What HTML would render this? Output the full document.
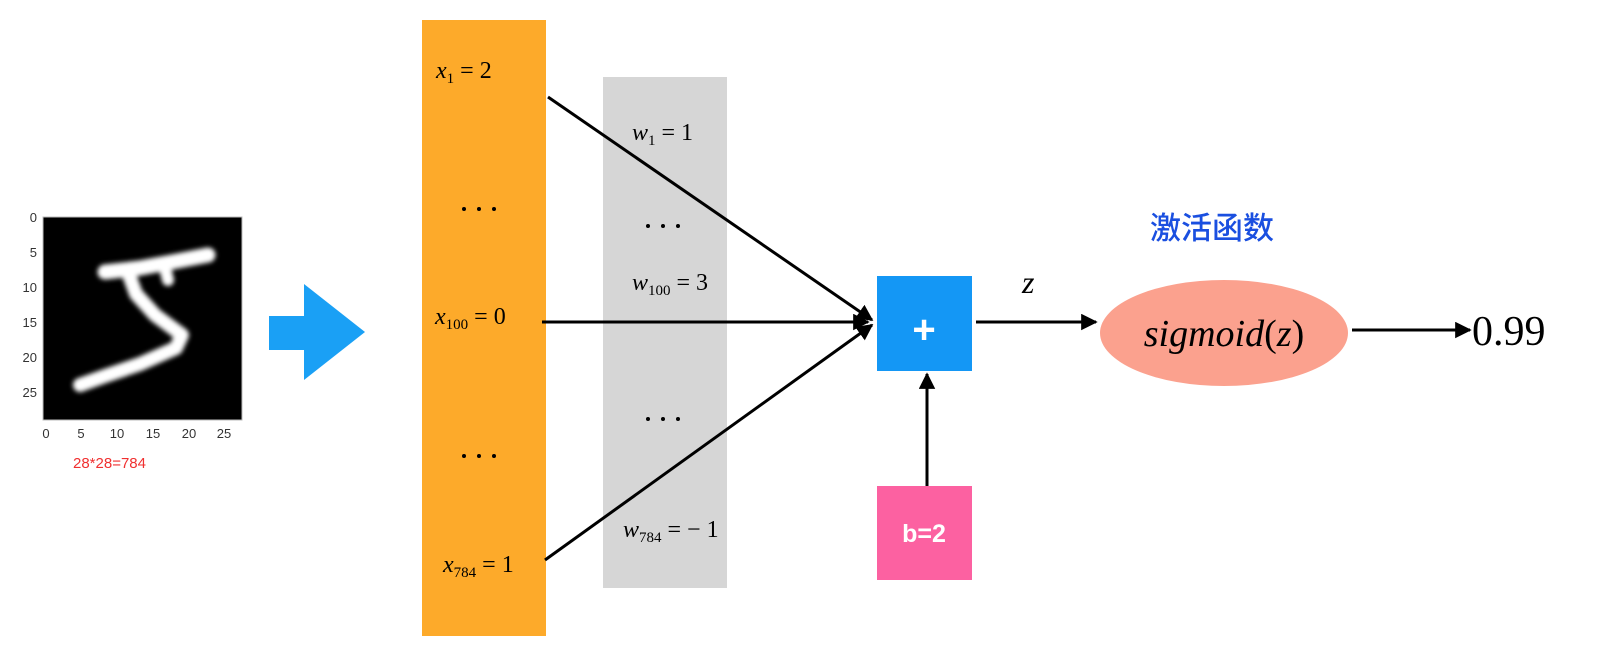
<!DOCTYPE html>
<html><head><meta charset="utf-8"><style>
html,body{margin:0;padding:0;background:#fff;}
svg{display:block}
.m{font-family:"Liberation Serif",serif;font-size:24px;fill:#000}
.i{font-style:italic}
.s{font-size:15px}
</style></head><body>
<svg width="1600" height="671" viewBox="0 0 1600 671" xmlns="http://www.w3.org/2000/svg">
<defs>
<marker id="ah" viewBox="0 0 10 10" refX="9" refY="5" markerWidth="5.5" markerHeight="5.5" orient="auto"><path d="M0,0 L10,5 L0,10 z" fill="#000"/></marker>
<filter id="bl" x="-20%" y="-20%" width="140%" height="140%"><feGaussianBlur stdDeviation="2.5"/></filter>
</defs>
<rect x="43" y="217" width="199" height="203" fill="#000" stroke="#bbb" stroke-width="1"/>
<g filter="url(#bl)" stroke="#fff" fill="none" stroke-linecap="round" stroke-linejoin="round">
<path d="M105,272 L140,268 L172,262 L208,255" stroke-width="15"/>
<path d="M128,272 L136,294 L155,315 L182,335 L176,348 L140,364 L105,376 L80,385" stroke-width="14"/>
<path d="M165,268 L168,280" stroke-width="12"/>
</g>
<g font-family="Liberation Sans,sans-serif" font-size="13" fill="#333" text-anchor="end">
<text x="37" y="222">0</text><text x="37" y="257">5</text><text x="37" y="292">10</text>
<text x="37" y="327">15</text><text x="37" y="362">20</text><text x="37" y="397">25</text>
</g>
<g font-family="Liberation Sans,sans-serif" font-size="13" fill="#333" text-anchor="middle">
<text x="46" y="438">0</text><text x="81" y="438">5</text><text x="117" y="438">10</text>
<text x="153" y="438">15</text><text x="189" y="438">20</text><text x="224" y="438">25</text>
</g>
<text x="73" y="468" font-family="Liberation Sans,sans-serif" font-size="15" fill="#f03030">28*28=784</text>
<rect x="269" y="316" width="37" height="34" fill="#1aa0f5"/>
<polygon points="304,284 365,332 304,380" fill="#1aa0f5"/>
<rect x="422" y="20" width="124" height="616" fill="#fdaa2a"/>
<rect x="603" y="77" width="124" height="511" fill="#d6d6d6"/>
<text class="m" x="436" y="78"><tspan class="i">x</tspan><tspan class="s" dy="5">1</tspan><tspan dy="-5"> = 2</tspan></text>
<g fill="#000">
<circle cx="464" cy="209" r="2"/><circle cx="479" cy="209" r="2"/><circle cx="494" cy="209" r="2"/>
<circle cx="464" cy="456" r="2"/><circle cx="479" cy="456" r="2"/><circle cx="494" cy="456" r="2"/>
<circle cx="648" cy="226" r="2"/><circle cx="663" cy="226" r="2"/><circle cx="678" cy="226" r="2"/>
<circle cx="648" cy="419" r="2"/><circle cx="663" cy="419" r="2"/><circle cx="678" cy="419" r="2"/>
</g>
<text class="m" x="435" y="324"><tspan class="i">x</tspan><tspan class="s" dy="5">100</tspan><tspan dy="-5"> = 0</tspan></text>
<text class="m" x="443" y="572"><tspan class="i">x</tspan><tspan class="s" dy="5">784</tspan><tspan dy="-5"> = 1</tspan></text>
<text class="m" x="632" y="140"><tspan class="i">w</tspan><tspan class="s" dy="5">1</tspan><tspan dy="-5"> = 1</tspan></text>
<text class="m" x="632" y="290"><tspan class="i">w</tspan><tspan class="s" dy="5">100</tspan><tspan dy="-5"> = 3</tspan></text>
<text class="m" x="623" y="537"><tspan class="i">w</tspan><tspan class="s" dy="5">784</tspan><tspan dy="-5"> = − 1</tspan></text>
<g stroke="#000" stroke-width="3" fill="none">
<line x1="548" y1="97" x2="872" y2="320" marker-end="url(#ah)"/>
<line x1="542" y1="322" x2="868" y2="322" marker-end="url(#ah)"/>
<line x1="545" y1="560" x2="872" y2="325" marker-end="url(#ah)"/>
<line x1="976" y1="322" x2="1096" y2="322" marker-end="url(#ah)"/>
<line x1="927" y1="486" x2="927" y2="374" marker-end="url(#ah)"/>
<line x1="1352" y1="330" x2="1470" y2="330" marker-end="url(#ah)"/>
</g>
<rect x="877" y="276" width="95" height="95" fill="#1497f5"/>
<text x="924" y="343" font-family="Liberation Sans,sans-serif" font-weight="bold" font-size="40" fill="#fff" text-anchor="middle">+</text>
<rect x="877" y="486" width="95" height="94" fill="#fc61a1"/>
<text x="924" y="542" font-family="Liberation Sans,sans-serif" font-weight="bold" font-size="25" fill="#fff" text-anchor="middle">b=2</text>
<text class="m i" x="1022" y="293" style="font-size:32px">z</text>
<text x="1150" y="239" font-family="'Noto Sans CJK SC',sans-serif" font-size="31" font-weight="500" fill="#1a4fe0">激活函数</text>
<ellipse cx="1224" cy="333" rx="124" ry="53" fill="#fba18e"/>
<text class="m i" x="1224" y="346" style="font-size:38px" text-anchor="middle">sigmoid<tspan font-style="normal">(</tspan>z<tspan font-style="normal">)</tspan></text>
<text class="m" x="1472" y="345" style="font-size:42px">0.99</text>
</svg>
</body></html>
